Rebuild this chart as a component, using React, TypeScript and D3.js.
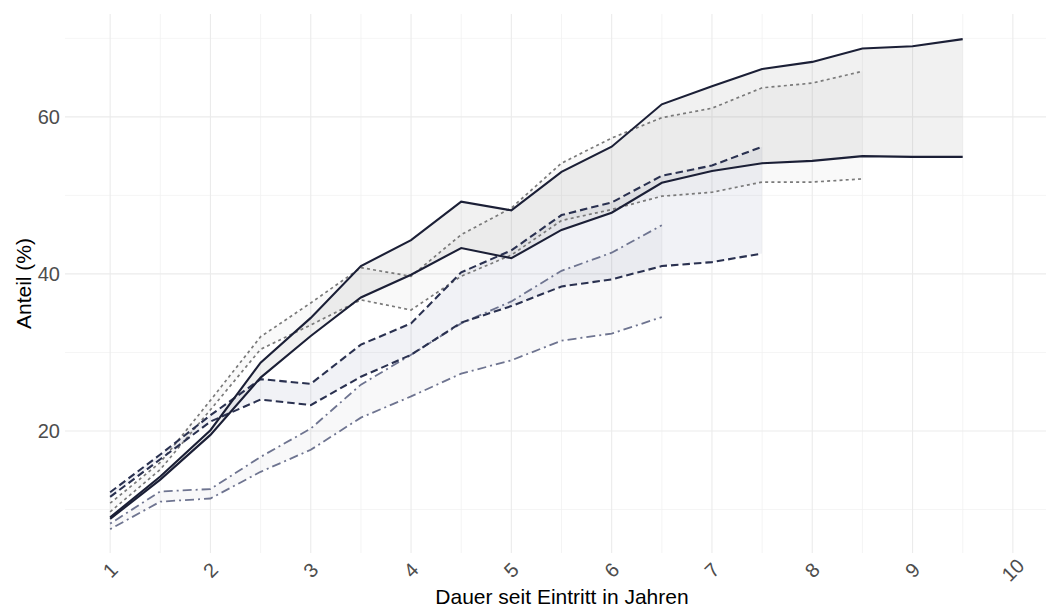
import React from "react";
import * as d3 from "d3";

const years = [1, 1.5, 2, 2.5, 3, 3.5, 4, 4.5, 5, 5.5, 6, 6.5, 7, 7.5, 8, 8.5, 9, 9.5];

// Solid series (upper / lower bound), 1 .. 9.5
const solidHi = [9.0, 14.2, 20.1, 28.7, 34.4, 41.0, 44.3, 49.2, 48.1, 53.0, 56.2, 61.6, 63.9, 66.1, 67.0, 68.7, 69.0, 69.9];
const solidLo = [8.8, 13.8, 19.5, 26.8, 32.1, 37.0, 39.9, 43.3, 42.0, 45.6, 47.8, 51.6, 53.1, 54.1, 54.4, 55.0, 54.9, 54.9];

// Dotted series, 1 .. 8.5
const dottedHi = [10.8, 16.0, 23.9, 32.0, 36.3, 40.8, 39.7, 45.0, 48.4, 54.1, 57.3, 59.9, 61.1, 63.7, 64.3, 65.8];
const dottedLo = [9.7, 15.1, 22.7, 30.4, 33.5, 36.7, 35.4, 39.7, 42.4, 46.8, 48.2, 49.9, 50.4, 51.7, 51.7, 52.1];

// Dashed series, 1 .. 7.5
const dashedHi = [12.2, 17.0, 22.0, 26.6, 26.0, 31.0, 33.7, 40.2, 43.0, 47.5, 49.1, 52.5, 53.8, 56.2];
const dashedLo = [11.6, 16.4, 21.2, 24.0, 23.3, 26.9, 29.7, 33.8, 35.9, 38.4, 39.3, 41.0, 41.5, 42.6];

// Dash-dot series, 1 .. 6.5
const dashDotHi = [8.2, 12.3, 12.6, 16.7, 20.3, 25.9, 29.7, 33.7, 36.5, 40.4, 42.7, 46.2];
const dashDotLo = [7.5, 11.0, 11.4, 14.8, 17.6, 21.7, 24.4, 27.3, 29.0, 31.5, 32.4, 34.5];

const xTicks = [1, 2, 3, 4, 5, 6, 7, 8, 9, 10];
const xMinor = [1.5, 2.5, 3.5, 4.5, 5.5, 6.5, 7.5, 8.5, 9.5];
const yTicks = [20, 40, 60];
const yMinor = [10, 30, 50, 70];

const W = 1046;
const H = 609;

export default function App() {
  React.useEffect(() => {
    document.body.style.margin = "0";
  }, []);

  const x = d3.scaleLinear().domain([0.55, 10.45]).range([65, 1058]);
  const y = d3.scaleLinear().domain([4.46, 73.1]).range([553, 14]);
  const top = 14;
  const bottom = 553;
  const left = 65;

  const mk = (hi: number[], lo: number[]) =>
    hi.map((h, i) => ({ t: years[i], hi: h, lo: lo[i] }));

  const area = d3
    .area<{ t: number; hi: number; lo: number }>()
    .x((d) => x(d.t))
    .y0((d) => y(d.lo))
    .y1((d) => y(d.hi));
  const lineHi = d3
    .line<{ t: number; hi: number; lo: number }>()
    .x((d) => x(d.t))
    .y((d) => y(d.hi));
  const lineLo = d3
    .line<{ t: number; hi: number; lo: number }>()
    .x((d) => x(d.t))
    .y((d) => y(d.lo));

  const groups = [
    { data: mk(dottedHi, dottedLo), fill: "rgba(128,128,128,0.05)", stroke: "#7a7a7a", width: 1.7, dash: "3,3.2" },
    { data: mk(dashDotHi, dashDotLo), fill: "rgba(110,110,130,0.05)", stroke: "#6e7490", width: 1.8, dash: "2,4,9,4" },
    { data: mk(dashedHi, dashedLo), fill: "rgba(40,60,120,0.065)", stroke: "#2a3150", width: 2.1, dash: "7.5,4" },
    { data: mk(solidHi, solidLo), fill: "rgba(128,128,128,0.11)", stroke: "#1b1f36", width: 2.1, dash: "none" },
  ];

  const fontFam = "Liberation Sans, Arial, sans-serif";

  return (
    <svg
      width={W}
      height={H}
      style={{ position: "absolute", left: 0, top: 0, background: "#fff" }}
      fontFamily={fontFam}
    >
      <rect x={0} y={0} width={W} height={H} fill="#ffffff" />
      {/* grid */}
      <g>
        {yMinor.map((v) => (
          <line key={"ym" + v} x1={left} x2={W} y1={y(v)} y2={y(v)} stroke="#f3f3f3" strokeWidth={0.8} />
        ))}
        {xMinor.map((v) => (
          <line key={"xm" + v} x1={x(v)} x2={x(v)} y1={top} y2={bottom} stroke="#f1f1f1" strokeWidth={0.8} />
        ))}
        {yTicks.map((v) => (
          <line key={"yg" + v} x1={left} x2={W} y1={y(v)} y2={y(v)} stroke="#ebebeb" strokeWidth={1.1} />
        ))}
        {xTicks.map((v) => (
          <line key={"xg" + v} x1={x(v)} x2={x(v)} y1={top} y2={bottom} stroke="#ebebeb" strokeWidth={1.1} />
        ))}
      </g>
      {/* ribbons */}
      <g>
        {groups.map((g, i) => (
          <path key={"a" + i} d={area(g.data) || ""} fill={g.fill} stroke="none" />
        ))}
      </g>
      {/* lines */}
      <g fill="none">
        {groups.map((g, i) => (
          <g key={"l" + i}>
            <path d={lineHi(g.data) || ""} stroke={g.stroke} strokeWidth={g.width} strokeDasharray={g.dash} />
            <path d={lineLo(g.data) || ""} stroke={g.stroke} strokeWidth={g.width} strokeDasharray={g.dash} />
          </g>
        ))}
      </g>
      {/* y axis labels */}
      <g>
        {yTicks.map((v) => (
          <text
            key={"yt" + v}
            x={60}
            y={y(v)}
            textAnchor="end"
            dominantBaseline="central"
            fontSize={20}
            fill="#4d4d4d"
          >
            {v}
          </text>
        ))}
      </g>
      {/* x axis labels */}
      <g>
        {xTicks.map((v) => (
          <text
            key={"xt" + v}
            x={x(v)}
            y={570}
            textAnchor="middle"
            dominantBaseline="central"
            fontSize={20}
            fill="#4d4d4d"
            transform={`rotate(-45, ${x(v)}, 570)`}
          >
            {v}
          </text>
        ))}
      </g>
      <text x={562} y={604} textAnchor="middle" fontSize={21} fill="#000">
        Dauer seit Eintritt in Jahren
      </text>
      <text
        x={23}
        y={283.5}
        textAnchor="middle"
        dominantBaseline="central"
        fontSize={21}
        fill="#000"
        transform="rotate(-90, 23, 283.5)"
      >
        Anteil (%)
      </text>
    </svg>
  );
}
